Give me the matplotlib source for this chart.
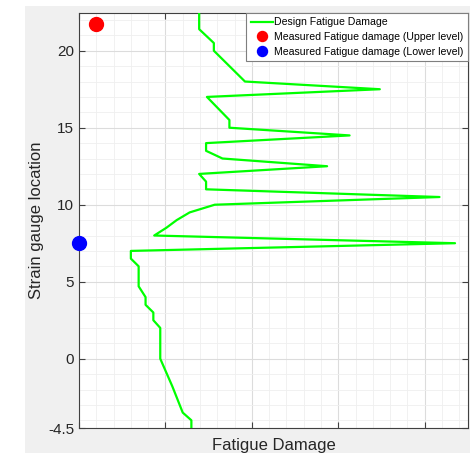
import matplotlib
matplotlib.use("Agg")
import matplotlib.pyplot as plt
from matplotlib.patches import Rectangle
from matplotlib.ticker import MultipleLocator

plt.rcParams['font.family'] = ['Liberation Sans', 'DejaVu Sans']

# design fatigue damage profile (x = damage, arbitrary units; y = gauge location)
design_damage = [1.39, 1.39, 1.56, 1.56, 1.92, 3.48, 1.48, 1.74, 1.74, 3.13,
                 1.47, 1.47, 1.66, 2.87, 1.39, 1.47, 1.47, 4.17, 1.57, 1.28,
                 1.13, 1.01, 0.87, 4.35, 0.60, 0.60, 0.69, 0.69, 0.77, 0.77,
                 0.86, 0.86, 0.94, 0.94, 1.08, 1.20, 1.30, 1.30]
design_location = [22.5, 21.4, 20.5, 20.0, 18.0, 17.5, 17.0, 15.5, 15.0, 14.5,
                   14.0, 13.5, 13.0, 12.5, 12.0, 11.5, 11.0, 10.5, 10.0, 9.5,
                   9.0, 8.5, 8.0, 7.5, 7.0, 6.5, 6.0, 4.7, 4.0, 3.5,
                   3.0, 2.5, 2.0, 0.0, -1.8, -3.5, -4.0, -4.5]

upper_damage = [0.2]
upper_location = [21.75]
lower_damage = [0.0]
lower_location = [7.5]

y_ticks = [-4.5, 0, 5, 10, 15, 20]

fig = plt.figure(figsize=(4.7, 4.53), dpi=100)
fig.patch.set_facecolor("white")
fig.patches.append(Rectangle((25 / 470, 0), 1, 1 - 6 / 453,
                             transform=fig.transFigure, facecolor="#f0f0f0",
                             edgecolor="none", zorder=-10))

ax = fig.add_axes([79 / 470, 1 - 428 / 453, (468 - 79) / 470, (428 - 13) / 453])
ax.set_facecolor("white")

ax.plot(design_damage, design_location, color="#00ff00", lw=1.6,
        label="Design Fatigue Damage", zorder=3)
ax.plot(upper_damage, upper_location, "o", color="#ff0000", ms=10,
        label="Measured Fatigue damage (Upper level)", clip_on=False, zorder=4)
ax.plot(lower_damage, lower_location, "o", color="#0000ff", ms=10,
        label="Measured Fatigue damage (Lower level)", clip_on=False, zorder=4)

ax.set_xlim(0, 4.5)
ax.set_ylim(-4.5, 22.45)
ax.xaxis.set_major_locator(MultipleLocator(1))
ax.xaxis.set_minor_locator(MultipleLocator(0.2))
ax.set_yticks(y_ticks)
ax.set_yticklabels(["-4.5", "0", "5", "10", "15", "20"])
ax.yaxis.set_minor_locator(MultipleLocator(1))
ax.set_xticklabels([])

ax.grid(which="major", color="#dcdcdc", lw=0.8)
ax.grid(which="minor", color="#efefef", lw=0.6)
ax.set_axisbelow(True)

ax.tick_params(which="major", direction="in", length=4, width=0.8,
               color="#404040", labelsize=11, labelcolor="#262626",
               top=True, right=True)
ax.tick_params(which="minor", length=0, top=True, right=True)
for sp in ax.spines.values():
    sp.set_color("#404040")
    sp.set_linewidth(0.8)

ax.set_xlabel("Fatigue Damage", fontsize=12, color="#262626", labelpad=4)
ax.set_ylabel("Strain gauge location", fontsize=12, color="#262626", labelpad=3)

leg = ax.legend(loc="upper right", fontsize=7.6, borderaxespad=0,
                fancybox=False, framealpha=1, edgecolor="#7f7f7f",
                handlelength=2.1, handletextpad=0.15, borderpad=0.4,
                labelspacing=0.45, markerscale=0.72)
leg.get_frame().set_linewidth(0.8)

fig.savefig("out.png", dpi=100)
